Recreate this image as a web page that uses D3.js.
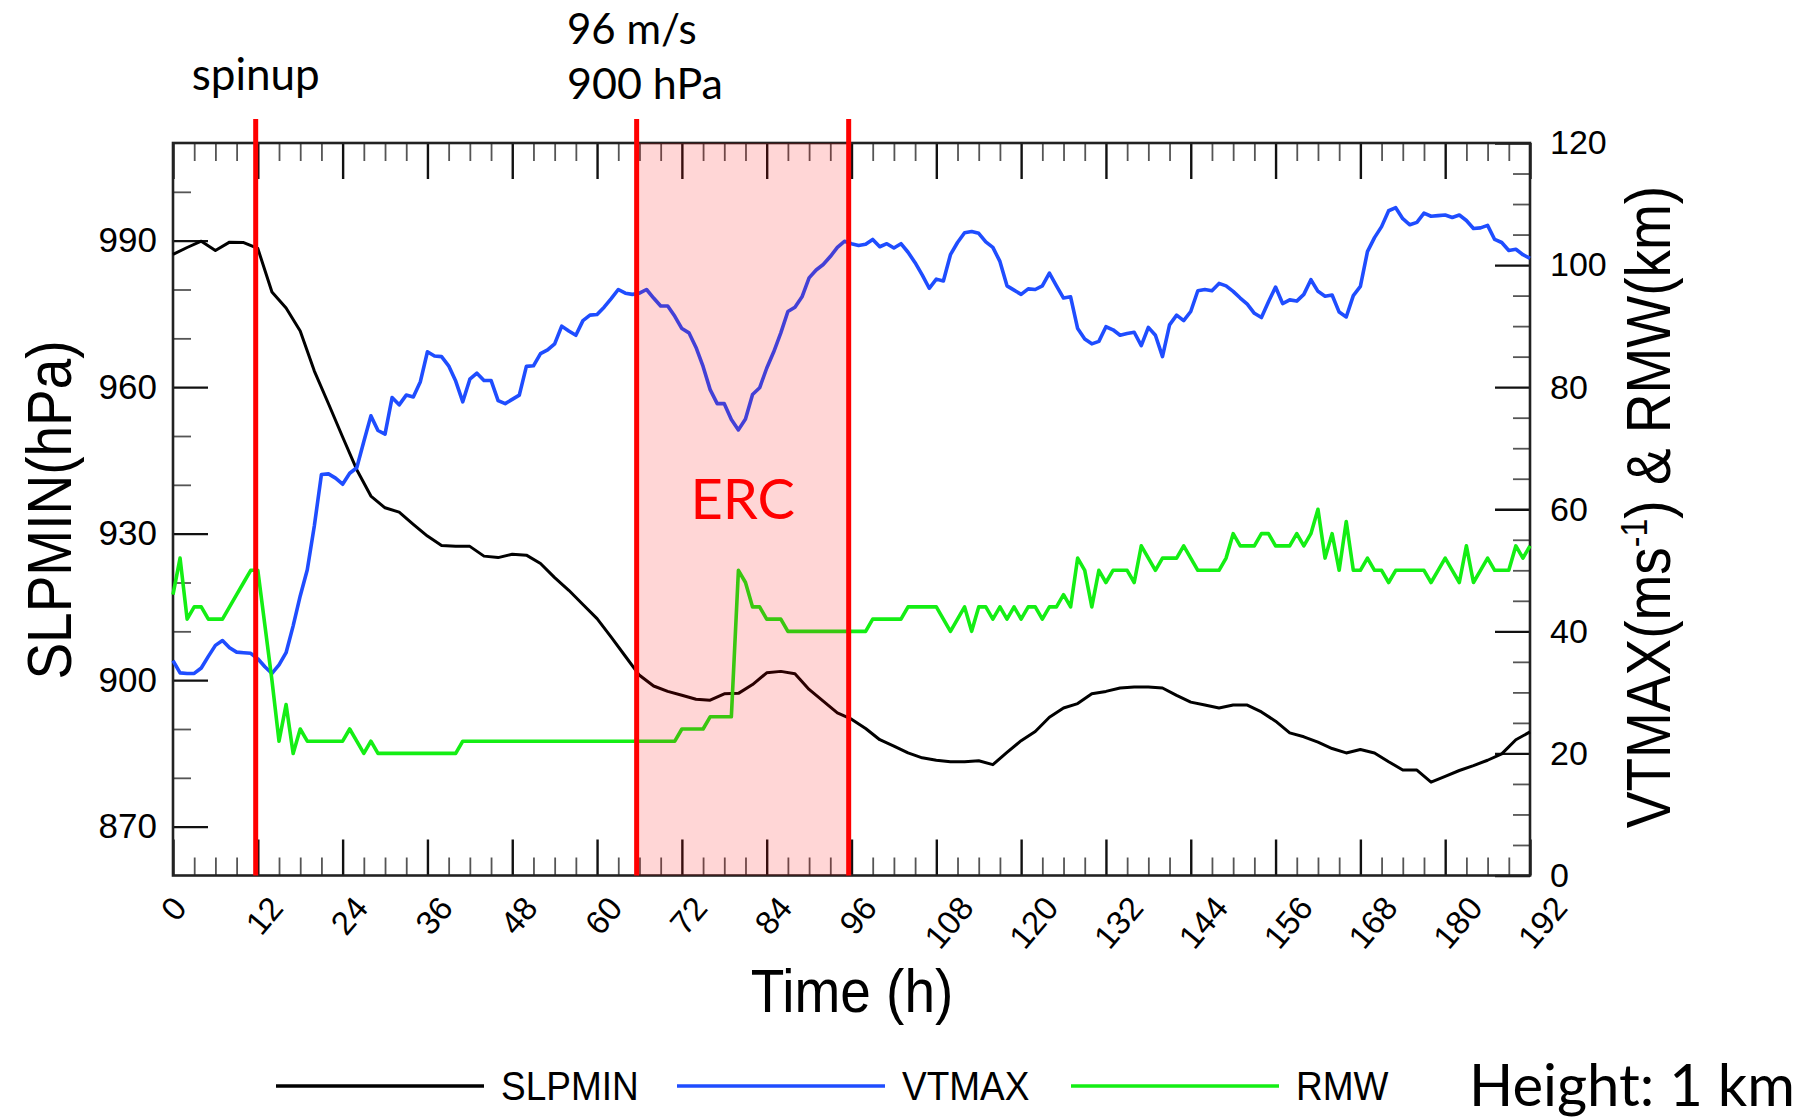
<!DOCTYPE html>
<html>
<head>
<meta charset="utf-8">
<script src="https://cdn.jsdelivr.net/npm/d3@7"></script>
<style>
  body { margin: 0; background: #fff; }
  svg text { font-family: "Liberation Sans", Arial, Helvetica, sans-serif; fill: #000; }
  svg text.note { font-family: Lato, "Open Sans", sans-serif; }
</style>
</head>
<body>
<svg id="chart" width="1806" height="1117"></svg>
<script>
// model output, hourly (SLPMIN read every 2 h)
const hours = d3.range(0, 193);
const slpHours = d3.range(0, 193, 2);

const slpmin = [
  987.2, 988.6, 989.9, 988.0, 989.7, 989.6, 988.4, 979.5, 976.2, 971.5, 963.3, 956.6, 949.8,
  943.1, 937.7, 935.3, 934.4, 931.9, 929.5, 927.6, 927.4, 927.4, 925.4, 925.1, 925.8,
  925.6, 923.9, 921.0, 918.4, 915.5, 912.6, 908.8, 904.9, 901.0, 898.8, 897.7, 896.9,
  896.1, 895.9, 897.2, 897.3, 899.1, 901.5, 901.8, 901.3, 898.1, 895.7, 893.3, 892.0,
  890.1, 887.8, 886.5, 885.1, 884.1, 883.6, 883.3, 883.3, 883.5, 882.7, 885.2, 887.6,
  889.5, 892.4, 894.3, 895.2, 897.2, 897.7, 898.4, 898.6, 898.6, 898.4, 896.9, 895.5,
  894.9, 894.3, 894.9, 894.9, 893.5, 891.6, 889.2, 888.4, 887.3, 886.0, 885.1, 885.8,
  885.1, 883.3, 881.6, 881.6, 879.1, 880.3, 881.5, 882.5, 883.6, 884.9, 887.8, 889.4
];

const vtmax = [
  35.2, 33.2, 33.1, 33.1, 34.0, 35.9, 37.7, 38.5, 37.3, 36.6, 36.5, 36.4, 35.5,
  34.2, 33.1, 34.5, 36.5, 40.9, 45.8, 50.1, 57.3, 65.7, 65.8, 65.1, 64.1,
  65.9, 66.8, 71.1, 75.3, 72.9, 72.3, 78.3, 77.1, 78.7, 78.4, 80.9, 85.8,
  85.1, 85.0, 83.5, 81.0, 77.6, 81.3, 82.3, 81.1, 81.1, 77.8, 77.3, 78.0,
  78.7, 83.4, 83.5, 85.5, 86.1, 87.1, 90.0, 89.2, 88.5, 90.9, 91.8, 91.9,
  93.1, 94.5, 96.0, 95.4, 95.2, 95.4, 96.0, 94.6, 93.3, 93.3, 91.6, 89.6,
  88.9, 86.5, 83.4, 79.6, 77.3, 77.3, 74.7, 73.0, 74.8, 78.8, 79.9, 83.1,
  85.8, 88.9, 92.4, 93.1, 94.8, 97.9, 99.2, 100.1, 101.4, 102.9, 103.9, 103.5,
  103.2, 103.4, 104.2, 103.0, 103.5, 102.8, 103.5, 102.1, 100.4, 98.4, 96.2, 97.7,
  97.4, 101.7, 103.7, 105.3, 105.5, 105.2, 103.8, 102.9, 100.6, 96.6, 95.9, 95.2,
  96.1, 96.0, 96.6, 98.7, 96.6, 94.6, 94.8, 89.6, 87.9, 87.1, 87.5, 89.9,
  89.4, 88.5, 88.8, 89.0, 86.8, 89.8, 88.5, 85.0, 90.2, 91.8, 90.9, 92.4,
  95.8, 96.0, 95.8, 97.0, 96.6, 95.7, 94.6, 93.6, 92.1, 91.4, 94.0, 96.4,
  93.7, 94.3, 94.1, 95.2, 97.6, 95.7, 94.9, 95.1, 92.3, 91.5, 95.0, 96.5,
  102.2, 104.5, 106.3, 108.9, 109.4, 107.6, 106.6, 107.0, 108.5, 108.0, 108.1, 108.2,
  107.8, 108.2, 107.3, 106.0, 106.1, 106.5, 104.2, 103.7, 102.4, 102.6, 101.7, 101.1
];

const rmw = [
  46, 52, 42, 44, 44, 42, 42, 42, 44, 46, 48, 50, 50,
  41, 32, 22, 28, 20, 24, 22, 22, 22, 22, 22, 22,
  24, 22, 20, 22, 20, 20, 20, 20, 20, 20, 20, 20,
  20, 20, 20, 20, 22, 22, 22, 22, 22, 22, 22, 22,
  22, 22, 22, 22, 22, 22, 22, 22, 22, 22, 22, 22,
  22, 22, 22, 22, 22, 22, 22, 22, 22, 22, 22, 24,
  24, 24, 24, 26, 26, 26, 26, 50, 48, 44, 44, 42,
  42, 42, 40, 40, 40, 40, 40, 40, 40, 40, 40, 40,
  40, 40, 42, 42, 42, 42, 42, 44, 44, 44, 44, 44,
  42, 40, 42, 44, 40, 44, 44, 42, 44, 42, 44, 42,
  44, 44, 42, 44, 44, 46, 44, 52, 50, 44, 50, 48,
  50, 50, 50, 48, 54, 52, 50, 52, 52, 52, 54, 52,
  50, 50, 50, 50, 52, 56, 54, 54, 54, 56, 56, 54,
  54, 54, 56, 54, 56, 60, 52, 56, 50, 58, 50, 50,
  52, 50, 50, 48, 50, 50, 50, 50, 50, 48, 50, 52,
  50, 48, 54, 48, 50, 52, 50, 50, 50, 54, 52, 54
];

const xTicks = [0, 12, 24, 36, 48, 60, 72, 84, 96, 108, 120, 132, 144, 156, 168, 180, 192];
const slpTicks = [870, 900, 930, 960, 990];
const rightTicks = [0, 20, 40, 60, 80, 100, 120];

const seriesNames = ["SLPMIN", "VTMAX", "RMW"];
const seriesColors = ["#000000", "#1f4dff", "#14ee14"];

// spinup end, ERC start, ERC end (h)
const markerHours = [11.7, 65.6, 95.6];

const svg = d3.select("#chart");
const plot = { left: 173, right: 1530, top: 143, bottom: 875.5 };

svg.append("rect").attr("width", 1806).attr("height", 1117).attr("fill", "#fff");

const x = d3.scaleLinear().domain([0, 192]).range([plot.left, plot.right]);
const yL = d3.scaleLinear().domain([860, 1010]).range([plot.bottom, plot.top]);
const yR = d3.scaleLinear().domain([0, 120]).range([plot.bottom, plot.top]);

function tidy(g, width, color) {
    g.select(".domain").remove();
    g.selectAll(".tick line").attr("stroke", color).attr("stroke-width", width);
}

const xMinor = d3.range(0, 193, 3).filter(v => v % 12 !== 0);
const lMinor = d3.range(870, 1010, 10).filter(v => (v - 870) % 30 !== 0);
const rMinor = d3.range(5, 120, 5).filter(v => v % 20 !== 0);

// bottom axis
svg.append("g").attr("transform", `translate(0,${plot.bottom})`)
    .call(d3.axisBottom(x).tickValues(xMinor).tickSize(-18).tickFormat(""))
    .call(g => tidy(g, 1.8, "#555"));

const xAxis = svg.append("g").attr("transform", `translate(0,${plot.bottom})`)
    .call(d3.axisBottom(x).tickValues(xTicks).tickSize(-36).tickPadding(0))
    .call(g => tidy(g, 2.4, "#111"));

xAxis.selectAll(".tick text").each(function(d) {
    const n = String(d).length;
    d3.select(this)
        .attr("y", null).attr("dy", null)
        .attr("text-anchor", "middle")
        .attr("dominant-baseline", "central")
        .style("font-size", "33px")
        .attr("transform", `translate(${6 * (n - 1)},${26 + 7 * n}) rotate(-50)`);
});

// top axis
svg.append("g").attr("transform", `translate(0,${plot.top})`)
    .call(d3.axisTop(x).tickValues(xMinor).tickSize(-18).tickFormat(""))
    .call(g => tidy(g, 1.8, "#555"));
svg.append("g").attr("transform", `translate(0,${plot.top})`)
    .call(d3.axisTop(x).tickValues(xTicks).tickSize(-36).tickFormat(""))
    .call(g => tidy(g, 2.4, "#111"));

// left axis (SLPMIN)
svg.append("g").attr("transform", `translate(${plot.left},0)`)
    .call(d3.axisLeft(yL).tickValues(lMinor).tickSize(-18).tickFormat(""))
    .call(g => tidy(g, 1.8, "#555"));
svg.append("g").attr("transform", `translate(${plot.left},0)`)
    .call(d3.axisLeft(yL).tickValues(slpTicks).tickSize(-35).tickPadding(16))
    .call(g => tidy(g, 2.4, "#111"))
    .selectAll(".tick text").style("font-size", "35px");

// right axis (VTMAX & RMW)
svg.append("g").attr("transform", `translate(${plot.right},0)`)
    .call(d3.axisRight(yR).tickValues(rMinor).tickSize(-17).tickFormat(""))
    .call(g => tidy(g, 1.8, "#555"));
svg.append("g").attr("transform", `translate(${plot.right},0)`)
    .call(d3.axisRight(yR).tickValues(rightTicks).tickSize(-35).tickPadding(20))
    .call(g => tidy(g, 2.4, "#111"))
    .selectAll(".tick text").style("font-size", "34px");

// frame
svg.append("rect")
    .attr("x", plot.left).attr("y", plot.top)
    .attr("width", plot.right - plot.left).attr("height", plot.bottom - plot.top)
    .attr("fill", "none").attr("stroke", "#222").attr("stroke-width", 2.6);

// series
const slpLine = d3.line().x((d, i) => x(slpHours[i])).y(d => yL(d));
const rLine = d3.line().x((d, i) => x(hours[i])).y(d => yR(d));

svg.append("path").datum(slpmin).attr("d", slpLine)
    .attr("fill", "none").attr("stroke", seriesColors[0]).attr("stroke-width", 3)
    .attr("stroke-linejoin", "round");
svg.append("path").datum(vtmax).attr("d", rLine)
    .attr("fill", "none").attr("stroke", seriesColors[1]).attr("stroke-width", 3.6)
    .attr("stroke-linejoin", "round");
svg.append("path").datum(rmw).attr("d", rLine)
    .attr("fill", "none").attr("stroke", seriesColors[2]).attr("stroke-width", 3.6)
    .attr("stroke-linejoin", "round");

// ERC shading, drawn over the curves
svg.append("rect")
    .attr("x", x(markerHours[1])).attr("y", plot.top)
    .attr("width", x(markerHours[2]) - x(markerHours[1]))
    .attr("height", plot.bottom - plot.top)
    .attr("fill", "#ff0000").attr("opacity", 0.16);

svg.selectAll(".marker")
    .data(markerHours)
    .join("line")
    .attr("class", "marker")
    .attr("x1", d => x(d)).attr("x2", d => x(d))
    .attr("y1", 119).attr("y2", plot.bottom)
    .attr("stroke", "#ff0000").attr("stroke-width", 5);

// annotations
svg.append("text").attr("class", "note")
    .attr("x", x(markerHours[0])).attr("y", 90)
    .attr("text-anchor", "middle").style("font-size", "44px")
    .text("spinup");
svg.append("text").attr("class", "note")
    .attr("x", 567).attr("y", 44).style("font-size", "42px")
    .text("96 m/s");
svg.append("text").attr("class", "note")
    .attr("x", 567).attr("y", 99).style("font-size", "43px")
    .text("900 hPa");
svg.append("text").attr("class", "note")
    .attr("x", x((markerHours[1] + markerHours[2]) / 2)).attr("y", 519)
    .attr("text-anchor", "middle").style("font-size", "56px").style("fill", "#ff0000")
    .text("ERC");

// axis titles
svg.append("text")
    .attr("transform", "translate(71,510) rotate(-90) scale(1,1.13)")
    .attr("text-anchor", "middle").style("font-size", "55px")
    .text("SLPMIN(hPa)");

const rTitle = svg.append("text")
    .attr("transform", "translate(1670,507) rotate(-90) scale(1,1.13)")
    .attr("text-anchor", "middle").style("font-size", "55px");
rTitle.append("tspan").text("VTMAX(ms");
rTitle.append("tspan").attr("dy", -20).style("font-size", "32px").text("-1");
rTitle.append("tspan").attr("dy", 20).text(") & RMW(km)");

svg.append("text")
    .attr("transform", "translate(852,1012) scale(1,1.1)")
    .attr("text-anchor", "middle").style("font-size", "55px")
    .text("Time (h)");

// legend
const legendX = [276, 677, 1071];
const legend = svg.append("g").attr("transform", "translate(0,1086)");
seriesNames.forEach((name, i) => {
    legend.append("line")
        .attr("x1", legendX[i]).attr("x2", legendX[i] + 208)
        .attr("stroke", seriesColors[i]).attr("stroke-width", 3.6);
    legend.append("text")
        .attr("transform", `translate(${legendX[i] + 225},14) scale(1,1.1)`)
        .style("font-size", "37px")
        .text(name);
});

svg.append("text").attr("class", "note")
    .attr("x", 1469).attr("y", 1106).style("font-size", "58px")
    .text("Height: 1 km");
</script>
</body>
</html>
